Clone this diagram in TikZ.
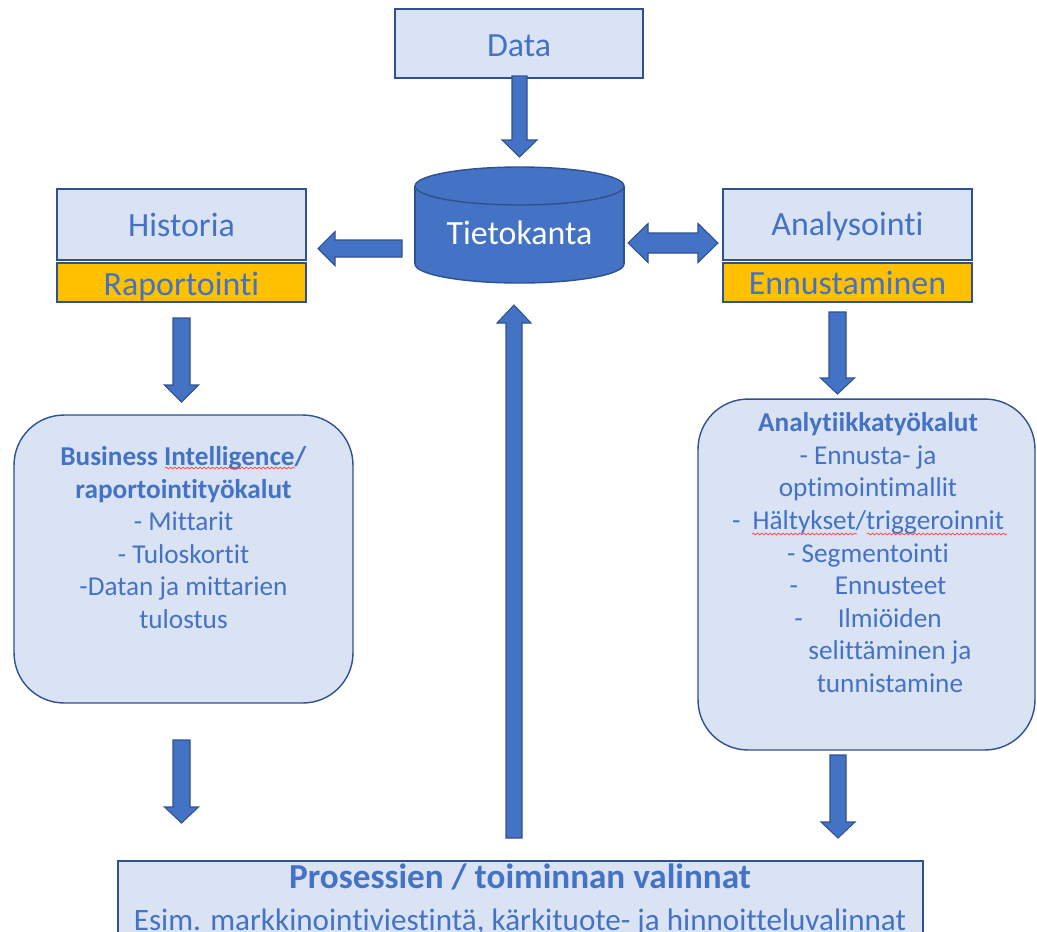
\documentclass[tikz,border=0pt]{standalone}
\usepackage{fontspec}
\setmainfont{Carlito}[Ligatures={NoCommon}]
\usetikzlibrary{calc,decorations.pathmorphing}
\definecolor{accent}{HTML}{4472C4}
\definecolor{lightfill}{HTML}{DAE3F3}
\definecolor{darkline}{HTML}{2F528F}
\definecolor{gold}{HTML}{FFC000}
\tikzset{
  box/.style={draw=darkline, line width=0.8pt, fill=lightfill, rectangle, inner sep=0pt},
  goldbox/.style={draw=darkline, line width=0.8pt, fill=gold, rectangle, inner sep=0pt},
  lbl/.style={text=accent, font=\fontsize{19.3}{23}\selectfont, text height=12.4pt, text depth=0pt},
  roundbox/.style={draw=darkline, line width=0.8pt, fill=lightfill, rectangle, rounded corners=1cm, inner sep=0pt},
  body/.style={text=accent, align=center, font=\fontsize{15.5}{18.5}\selectfont, inner sep=0pt, anchor=base},
  blockarr/.style={draw=darkline, line width=0.6pt, fill=accent, line join=miter},
  cylfill/.style={fill=accent},
  cylline/.style={draw=darkline, line width=0.8pt},
  spell/.style={draw=red!75, line width=0.4pt, decorate, decoration={snake, amplitude=0.5pt, segment length=2.4pt}},
}
\newcommand\sarrow[5]{% start, end, shaft half width, head half width, head length
  \coordinate (hb) at ($(#2)!#5!(#1)$);
  \draw[blockarr] ($(#1)!#3!90:(#2)$) -- ($(hb)!#3!90:(#2)$) -- ($(hb)!#4!90:(#2)$) -- (#2)
     -- ($(hb)!#4!-90:(#2)$) -- ($(hb)!#3!-90:(#2)$) -- ($(#1)!#3!-90:(#2)$) -- cycle;
}
\newcommand\darrow[5]{%
  \coordinate (hbA) at ($(#1)!#5!(#2)$);
  \coordinate (hbB) at ($(#2)!#5!(#1)$);
  \draw[blockarr] (#1) -- ($(hbA)!#4!90:(#2)$) -- ($(hbA)!#3!90:(#2)$) -- ($(hbB)!#3!90:(#2)$)
     -- ($(hbB)!#4!90:(#2)$) -- (#2) -- ($(hbB)!#4!-90:(#2)$) -- ($(hbB)!#3!-90:(#2)$)
     -- ($(hbA)!#3!-90:(#2)$) -- ($(hbA)!#4!-90:(#2)$) -- cycle;
}
\begin{document}
\begin{tikzpicture}[x=0.02cm, y=-0.02cm]
\useasboundingbox (0,0) rectangle (1037,931);
\clip (0,0) rectangle (1037,931);

% top data box
\node[box, minimum width=4.96cm, minimum height=1.38cm] (data) at (519,43.5) {};
\node[lbl] (datatxt) at (519,45.5) {Data};

% database cylinder
\node[minimum width=4.18cm, minimum height=2.32cm, inner sep=0pt] (db) at (519.5,225) {};
\fill[cylfill] (415,186) rectangle (624,264);
\fill[cylfill] (519.5,264) ellipse [x radius=104.5, y radius=19];
\draw[cylline] (415,186) -- (415,264);
\draw[cylline] (624,186) -- (624,264);
\begin{scope}
  \clip (400,264) rectangle (640,300);
  \draw[cylline] (519.5,264) ellipse [x radius=104.5, y radius=19];
\end{scope}
\draw[cylline, cylfill] (519.5,186) ellipse [x radius=104.5, y radius=19];
\node[lbl, text=white] (dbtxt) at (519.5,234) {Tietokanta};

% left column header
\node[box, minimum width=4.98cm, minimum height=1.42cm] (hist) at (181.5,224.5) {};
\node[lbl] (histtxt) at (181.5,225.5) {Historia};
\node[goldbox, minimum width=4.98cm, minimum height=0.78cm] (rap) at (181.5,282.5) {};
\node[lbl] (raptxt) at (181.5,284.5) {Raportointi};

% right column header
\node[box, minimum width=4.98cm, minimum height=1.42cm] (ana) at (847.5,224.5) {};
\node[lbl] (anatxt) at (847.5,224.5) {Analysointi};
\node[goldbox, minimum width=4.98cm, minimum height=0.78cm] (enn) at (847.5,282.5) {};
\node[lbl] (enntxt) at (847.5,284) {Ennustaminen};

% BI rounded box
\node[roundbox, minimum width=6.78cm, minimum height=5.76cm] (bi) at (183.5,559) {};
\node[body] (bitxt) at (183.5,628) {\textbf{Business Intelligence/}\\\textbf{raportointityökalut}\\- Mittarit\\- Tuloskortit\\-Datan ja mittarien\\tulostus};
\draw[spell] (165,468) -- (295,468);

% Analytics rounded box
\node[roundbox, minimum width=6.74cm, minimum height=7.02cm] (at) at (866.5,574.5) {};
\node[body] (attxt) at (868,692) {\textbf{Analytiikkatyökalut}\\- Ennusta- ja\\optimointimallit\\-\hspace{0.45em}Hältykset/triggeroinnit\\- Segmentointi\\-\hspace{21pt}Ennusteet\\-\hspace{20pt}Ilmiöiden\\\hspace*{25pt}selittäminen ja\\\hspace*{25pt}tunnistamine};
\draw[spell] (752,534) -- (857,534);
\draw[spell] (867,534) -- (1007,534);

% bottom box
\node[box, minimum width=16.1cm, minimum height=1.6cm] (proc) at (520.5,901) {};
\node[text=accent, font=\bfseries\fontsize{20}{24}\selectfont, text height=12.9pt, text depth=0pt, inner sep=0pt] (proctitle) at (520,877.5) {Prosessien / toiminnan valinnat};
\node[text=accent, font=\fontsize{17.7}{21}\selectfont, text height=11.4pt, text depth=0pt, inner sep=0pt] (procsub) at (520,920) {Esim. markkinointiviestintä, kärkituote- ja hinnoitteluvalinnat};

% arrow end points
\coordinate (a1s) at (519.5,76);  \coordinate (a1e) at (519.5,157);
\coordinate (a2s) at (402,248.5); \coordinate (a2e) at (318,248.5);
\coordinate (a3s) at (628,243);   \coordinate (a3e) at (718,243);
\coordinate (a4s) at (181.5,318); \coordinate (a4e) at (181.5,402);
\coordinate (a5s) at (837.5,312); \coordinate (a5e) at (837.5,394);
\coordinate (a6s) at (181.5,740); \coordinate (a6e) at (181.5,823);
\coordinate (a7s) at (838,755);   \coordinate (a7e) at (838,838);
\coordinate (a8s) at (514,838);   \coordinate (a8e) at (514,305);

\sarrow{a1s}{a1e}{0.15cm}{0.35cm}{0.34cm}
\sarrow{a2s}{a2e}{0.17cm}{0.34cm}{0.34cm}
\darrow{a3s}{a3e}{0.2cm}{0.39cm}{0.4cm}
\sarrow{a4s}{a4e}{0.17cm}{0.34cm}{0.34cm}
\sarrow{a5s}{a5e}{0.17cm}{0.34cm}{0.32cm}
\sarrow{a6s}{a6e}{0.17cm}{0.34cm}{0.32cm}
\sarrow{a7s}{a7e}{0.16cm}{0.34cm}{0.32cm}
\sarrow{a8s}{a8e}{0.16cm}{0.34cm}{0.36cm}
\end{tikzpicture}
\end{document}
